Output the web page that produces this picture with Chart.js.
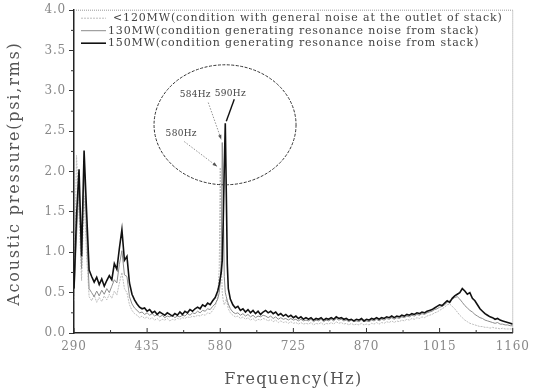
<!DOCTYPE html>
<html>
<head>
<meta charset="utf-8">
<script src="https://cdn.jsdelivr.net/npm/chart.js@4.4.0/dist/chart.umd.min.js"></script>
<style>
  html, body { margin: 0; background: #fff; }
</style>
</head>
<body>
<canvas id="chart" width="535" height="392"></canvas>
<script>
// frequency (Hz)
var freq = [
  290, 295, 300, 305, 310, 315, 320, 325, 330, 335,
  340, 345, 350, 355, 360, 365, 370, 375, 380, 385,
  390, 395, 400, 405, 410, 415, 420, 425, 430, 435,
  440, 445, 450, 455, 460, 465, 470, 475, 480, 485,
  490, 495, 500, 505, 510, 515, 520, 525, 530, 535,
  540, 545, 550, 555, 560, 565, 570, 575,
  578, 580, 582, 584, 586, 588, 590, 592, 594, 596,
  600, 605, 610, 615, 620, 625, 630, 635, 640, 645,
  650, 655, 660, 665, 670, 675, 680, 685, 690, 695,
  700, 705, 710, 715, 720, 725, 730, 735, 740, 745,
  750, 755, 760, 765, 770, 775, 780, 785, 790, 795,
  800, 805, 810, 815, 820, 825, 830, 835, 840, 845,
  850, 855, 860, 865, 870, 875, 880, 885, 890, 895,
  900, 905, 910, 915, 920, 925, 930, 935, 940, 945,
  950, 955, 960, 965, 970, 975, 980, 985, 990, 995,
  1000, 1005, 1010, 1015, 1020, 1025, 1030, 1035, 1040, 1045,
  1050, 1055, 1060, 1065, 1070, 1075, 1080, 1085, 1090, 1095,
  1100, 1105, 1110, 1115, 1120, 1125, 1130, 1135, 1140, 1145,
  1150, 1155, 1160
]

// acoustic pressure (psi, rms)
var p120 = [
  0.40, 2.20, 1.50, 0.65, 1.70, 0.95, 0.45, 0.40, 0.47, 0.38,
  0.44, 0.39, 0.46, 0.41, 0.48, 0.43, 0.52, 0.47, 0.62, 0.75,
  0.55, 0.50, 0.35, 0.28, 0.24, 0.22, 0.19, 0.21, 0.18, 0.20,
  0.17, 0.19, 0.16, 0.18, 0.15, 0.17, 0.16, 0.18, 0.15, 0.17,
  0.16, 0.18, 0.17, 0.19, 0.18, 0.20, 0.19, 0.21, 0.20, 0.22,
  0.21, 0.23, 0.22, 0.25, 0.24, 0.28, 0.33, 0.45,
  0.80, 2.05, 0.90, 0.50, 0.40, 0.35, 0.38, 0.42, 0.36, 0.30,
  0.25, 0.22, 0.20, 0.21, 0.18, 0.20, 0.17, 0.19, 0.16, 0.18,
  0.15, 0.17, 0.16, 0.18, 0.17, 0.15, 0.17, 0.14, 0.16, 0.13,
  0.15, 0.13, 0.14, 0.12, 0.14, 0.12, 0.13, 0.11, 0.13, 0.11,
  0.12, 0.11, 0.13, 0.10, 0.12, 0.11, 0.13, 0.10, 0.12, 0.11,
  0.13, 0.11, 0.14, 0.12, 0.13, 0.11, 0.12, 0.10, 0.12, 0.10,
  0.11, 0.10, 0.12, 0.10, 0.11, 0.10, 0.12, 0.11, 0.13, 0.11,
  0.13, 0.12, 0.14, 0.13, 0.15, 0.13, 0.15, 0.14, 0.16, 0.15,
  0.17, 0.16, 0.18, 0.17, 0.19, 0.18, 0.20, 0.19, 0.21, 0.22,
  0.23, 0.25, 0.26, 0.28, 0.30, 0.32, 0.35, 0.36, 0.33, 0.30,
  0.26, 0.22, 0.19, 0.16, 0.14, 0.12, 0.11, 0.10, 0.09, 0.08,
  0.08, 0.07, 0.07, 0.06, 0.07, 0.06, 0.06, 0.05, 0.06, 0.05,
  0.05, 0.05, 0.05
]

var p130 = [
  0.45, 1.20, 1.88, 0.80, 2.10, 1.25, 0.55, 0.50, 0.45, 0.52,
  0.46, 0.53, 0.48, 0.55, 0.50, 0.58, 0.66, 0.62, 0.85, 1.02,
  0.72, 0.70, 0.45, 0.36, 0.31, 0.28, 0.25, 0.26, 0.23, 0.25,
  0.22, 0.24, 0.21, 0.23, 0.20, 0.22, 0.19, 0.21, 0.20, 0.22,
  0.19, 0.21, 0.20, 0.22, 0.21, 0.24, 0.22, 0.25, 0.24, 0.27,
  0.25, 0.28, 0.27, 0.30, 0.29, 0.33, 0.36, 0.42,
  0.50, 0.62, 0.90, 2.36, 1.60, 0.70, 0.50, 0.45, 0.40, 0.36,
  0.30, 0.26, 0.24, 0.25, 0.22, 0.24, 0.21, 0.23, 0.20, 0.22,
  0.19, 0.21, 0.20, 0.22, 0.21, 0.19, 0.21, 0.18, 0.20, 0.17,
  0.19, 0.17, 0.18, 0.16, 0.18, 0.16, 0.17, 0.15, 0.17, 0.15,
  0.16, 0.15, 0.17, 0.14, 0.16, 0.15, 0.17, 0.14, 0.16, 0.15,
  0.17, 0.15, 0.18, 0.16, 0.17, 0.15, 0.16, 0.14, 0.16, 0.14,
  0.15, 0.14, 0.16, 0.14, 0.15, 0.14, 0.16, 0.15, 0.17, 0.15,
  0.17, 0.16, 0.18, 0.17, 0.19, 0.17, 0.19, 0.18, 0.20, 0.19,
  0.21, 0.20, 0.22, 0.21, 0.23, 0.22, 0.24, 0.23, 0.25, 0.26,
  0.27, 0.29, 0.30, 0.32, 0.33, 0.35, 0.38, 0.40, 0.42, 0.44,
  0.45, 0.42, 0.38, 0.34, 0.31, 0.28, 0.26, 0.23, 0.21, 0.19,
  0.18, 0.16, 0.15, 0.14, 0.13, 0.12, 0.13, 0.11, 0.11, 0.10,
  0.10, 0.09, 0.09
]

var p150 = [
  0.55, 1.45, 2.03, 0.95, 2.26, 1.50, 0.78, 0.70, 0.63, 0.69,
  0.60, 0.67, 0.58, 0.65, 0.71, 0.66, 0.86, 0.79, 1.05, 1.28,
  0.90, 0.95, 0.62, 0.48, 0.41, 0.36, 0.32, 0.30, 0.31, 0.27,
  0.29, 0.25, 0.27, 0.23, 0.26, 0.24, 0.22, 0.25, 0.23, 0.21,
  0.24, 0.22, 0.26, 0.23, 0.27, 0.25, 0.29, 0.27, 0.30, 0.32,
  0.30, 0.35, 0.33, 0.37, 0.35, 0.40, 0.44, 0.52,
  0.60, 0.68, 0.75, 0.90, 1.40, 2.05, 2.60, 1.75, 0.85, 0.55,
  0.42, 0.35, 0.31, 0.33, 0.28, 0.30, 0.26, 0.29, 0.25, 0.28,
  0.24, 0.27, 0.23, 0.26, 0.28, 0.25, 0.27, 0.24, 0.26, 0.22,
  0.24, 0.21, 0.23, 0.20, 0.22, 0.19, 0.21, 0.18, 0.20, 0.17,
  0.19, 0.17, 0.19, 0.16, 0.18, 0.17, 0.19, 0.16, 0.18, 0.17,
  0.19, 0.17, 0.20, 0.18, 0.19, 0.17, 0.18, 0.16, 0.17, 0.15,
  0.17, 0.16, 0.18, 0.15, 0.17, 0.16, 0.18, 0.17, 0.19, 0.17,
  0.19, 0.18, 0.20, 0.19, 0.21, 0.19, 0.21, 0.20, 0.22, 0.21,
  0.23, 0.22, 0.24, 0.23, 0.25, 0.24, 0.26, 0.25, 0.27, 0.28,
  0.29, 0.31, 0.33, 0.35, 0.34, 0.37, 0.40, 0.38, 0.43, 0.46,
  0.48, 0.50, 0.55, 0.52, 0.48, 0.50, 0.43, 0.40, 0.35, 0.30,
  0.27, 0.24, 0.22, 0.20, 0.19, 0.17, 0.18, 0.16, 0.15, 0.14,
  0.13, 0.12, 0.11
]

var seriesNames = [
  '<120MW(condition with general noise at the outlet of stack)',
  '130MW(condition generating resonance noise from stack)',
  '150MW(condition generating resonance noise from stack)'
]

var xTicks = [290, 435, 580, 725, 870, 1015, 1160]
var yTicks = [0, 0.5, 1, 1.5, 2, 2.5, 3, 3.5, 4]
var xTitle = 'Frequency(Hz)'
var yTitle = 'Acoustic pressure(psi,rms)'

// peak labels: text, peak frequency, peak value
var peakLabels = ['580Hz', '584Hz', '590Hz']
var peakFreq = [580, 584, 590]
var peakValue = [2.05, 2.36, 2.6]

function pts(values) {
  return values.map(function (v, i) { return { x: freq[i], y: v } })
}

var serif = "'DejaVu Serif', 'Liberation Serif', serif"

// legend drawn inside the plot, top left
var insideLegend = {
  id: 'insideLegend',
  afterDraw: function (chart) {
    var c = chart.ctx
    var a = chart.chartArea
    c.save()
    c.font = '11px ' + serif
    c.letterSpacing = '0.85px'
    c.textBaseline = 'middle'
    chart.data.datasets.forEach(function (ds, i) {
      var y = a.top + 8 + i * 12.5
      c.strokeStyle = ds.borderColor
      c.lineWidth = ds.borderWidth
      c.setLineDash(ds.borderDash || [])
      c.beginPath()
      c.moveTo(a.left + 7, y)
      c.lineTo(a.left + 32, y)
      c.stroke()
      c.fillStyle = '#444'
      c.fillText(ds.label, a.left + 34 + (i === 0 ? 5 : 0), y)
    })
    c.restore()
  }
}

// axis titles with wide letter spacing
var titles = {
  id: 'titles',
  beforeDraw: function (chart) { chart.ctx.letterSpacing = '0.8px' },
  afterDraw: function (chart) {
    var c = chart.ctx
    var a = chart.chartArea
    c.save()
    c.fillStyle = '#555'
    c.textAlign = 'center'
    c.textBaseline = 'middle'
    c.font = '16px ' + serif
    c.letterSpacing = '1.3px'
    c.fillText(xTitle, (a.left + a.right) / 2, 380)
    c.letterSpacing = '1.8px'
    c.translate(15, (a.top + a.bottom) / 2 + 2)
    c.rotate(-Math.PI / 2)
    c.fillText(yTitle, 0, 0)
    c.restore()
  }
}

// frame, inward ticks on x, minor ticks on y
var frame = {
  id: 'frame',
  afterDraw: function (chart) {
    var c = chart.ctx
    var a = chart.chartArea
    var xs = chart.scales.x
    var ys = chart.scales.y
    c.save()
    c.strokeStyle = '#999'
    c.lineWidth = 1
    c.setLineDash([1, 1])
    c.beginPath()
    c.moveTo(a.left, a.top)
    c.lineTo(a.right, a.top)
    c.lineTo(a.right, a.bottom)
    c.stroke()
    c.setLineDash([])
    c.strokeStyle = '#333'
    xTicks.forEach(function (v, i) {
      var px = xs.getPixelForValue(v)
      c.beginPath()
      c.moveTo(px, a.bottom)
      c.lineTo(px, a.bottom - 5)
      c.stroke()
      if (i < xTicks.length - 1) {
        var mx = xs.getPixelForValue((v + xTicks[i + 1]) / 2)
        c.beginPath()
        c.moveTo(mx, a.bottom)
        c.lineTo(mx, a.bottom - 3)
        c.stroke()
      }
    })
    yTicks.forEach(function (v, i) {
      if (i < yTicks.length - 1) {
        var my = ys.getPixelForValue((v + yTicks[i + 1]) / 2)
        c.beginPath()
        c.moveTo(a.left, my)
        c.lineTo(a.left - 3, my)
        c.stroke()
      }
    })
    c.restore()
  }
}

function arrow(c, x1, y1, x2, y2, dash) {
  c.setLineDash(dash)
  c.beginPath()
  c.moveTo(x1, y1)
  c.lineTo(x2, y2)
  c.stroke()
  c.setLineDash([])
  var ang = Math.atan2(y2 - y1, x2 - x1)
  c.beginPath()
  c.moveTo(x2, y2)
  c.lineTo(x2 - 5 * Math.cos(ang - 0.35), y2 - 5 * Math.sin(ang - 0.35))
  c.lineTo(x2 - 5 * Math.cos(ang + 0.35), y2 - 5 * Math.sin(ang + 0.35))
  c.closePath()
  c.fill()
}

// circle and peak labels
var peaks = {
  id: 'peaks',
  afterDatasetsDraw: function (chart) {
    var c = chart.ctx
    var xs = chart.scales.x
    var ys = chart.scales.y
    c.save()
    var cx = xs.getPixelForValue(589.5)
    var cy = ys.getPixelForValue(2.58)
    c.strokeStyle = '#333'
    c.lineWidth = 1
    c.setLineDash([3, 1.5])
    c.beginPath()
    c.ellipse(cx, cy, 71, 60, 0, 0, Math.PI * 2)
    c.stroke()
    c.setLineDash([])

    var tip = peakFreq.map(function (f, i) {
      return { x: xs.getPixelForValue(f), y: ys.getPixelForValue(peakValue[i]) }
    })
    // label offsets from the peak, in pixels
    var lab = [{ dx: -39, dy: -34 }, { dx: -27, dy: -48 }, { dx: 5, dy: -30 }]
    c.font = '9px ' + serif
    c.letterSpacing = '0.3px'
    c.textBaseline = 'middle'
    c.textAlign = 'center'
    c.fillStyle = '#444'
    peakLabels.forEach(function (t, i) {
      c.fillText(t, tip[i].x + lab[i].dx, tip[i].y + lab[i].dy)
    })
    c.lineWidth = 0.8
    c.strokeStyle = '#777'
    c.fillStyle = '#555'
    arrow(c, tip[0].x - 36, tip[0].y - 26, tip[0].x - 3, tip[0].y - 1, [1.5, 1.5])
    arrow(c, tip[1].x - 14, tip[1].y - 40, tip[1].x - 1, tip[1].y - 3, [1.5, 1.5])
    c.lineWidth = 1.4
    c.strokeStyle = '#111'
    c.beginPath()
    c.moveTo(tip[2].x + 9, tip[2].y - 24)
    c.lineTo(tip[2].x + 1, tip[2].y - 2)
    c.stroke()
    c.restore()
  }
}

var ctx = document.getElementById('chart').getContext('2d')
var chart = new Chart(ctx, {
  type: 'line',
  data: {
    datasets: [{
      label: seriesNames[0],
      data: pts(p120),
      borderColor: '#bdbdbd',
      borderWidth: 1,
      borderDash: [2, 1],
      order: 2
    }, {
      label: seriesNames[1],
      data: pts(p130),
      borderColor: '#8c8c8c',
      borderWidth: 1,
      order: 1
    }, {
      label: seriesNames[2],
      data: pts(p150),
      borderColor: '#111',
      borderWidth: 1.6,
      order: 0
    }]
  },
  options: {
    animation: false,
    responsive: false,
    layout: { padding: { top: 6, right: 18, left: 0, bottom: 0 } },
    elements: { point: { radius: 0 }, line: { tension: 0 } },
    plugins: { legend: { display: false }, tooltip: { enabled: false } },
    scales: {
      x: {
        type: 'linear',
        min: 290,
        max: 1160,
        afterBuildTicks: function (s) { s.ticks = xTicks.map(function (v) { return { value: v } }) },
        afterFit: function (s) { s.height = 59 },
        ticks: { font: { family: serif, size: 12 }, color: '#888', padding: 7, maxRotation: 0, callback: function (v) { return String(v) } },
        grid: { drawOnChartArea: false, drawTicks: false },
        border: { color: '#222', width: 1.5 }
      },
      y: {
        min: 0,
        max: 4,
        afterBuildTicks: function (s) { s.ticks = yTicks.map(function (v) { return { value: v } }) },
        afterFit: function (s) { s.width = 74 },
        ticks: { font: { family: serif, size: 12 }, color: '#888', padding: 3, callback: function (v) { return v.toFixed(1) } },
        grid: { drawOnChartArea: false, drawTicks: true, tickLength: 5, color: '#333' },
        border: { color: '#222', width: 1.5 }
      }
    }
  },
  plugins: [titles, frame, insideLegend, peaks]
})
</script>
</body>
</html>
